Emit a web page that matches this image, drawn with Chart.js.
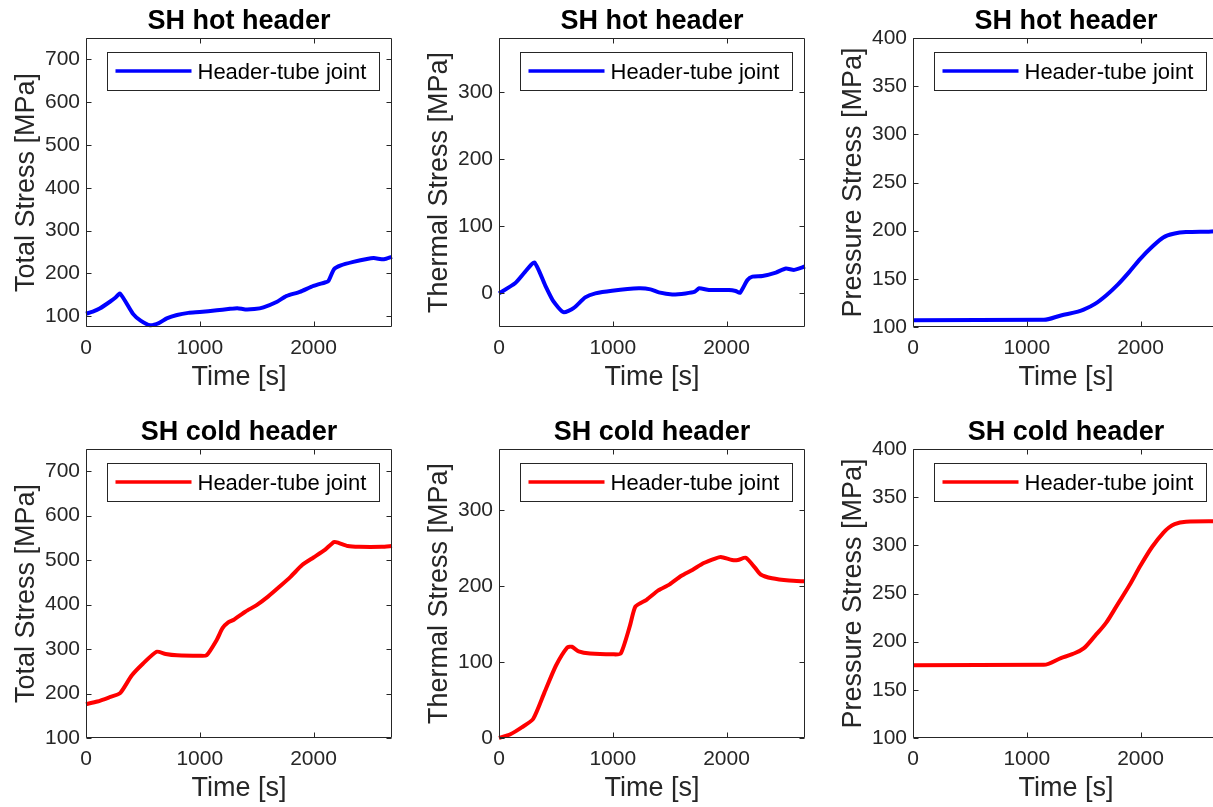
<!DOCTYPE html>
<html>
<head>
<meta charset="utf-8">
<title>SH header stresses</title>
<script src="https://cdn.jsdelivr.net/npm/chart.js@4.4.0/dist/chart.umd.min.js"></script>
<style>
  html, body { margin: 0; padding: 0; background: #fff; overflow: hidden; width: 1213px; height: 807px; }
  canvas { position: absolute; }
</style>
</head>
<body>
<canvas id="hotTotal" width="396" height="404" style="left:0px;top:0px"></canvas>
<canvas id="hotThermal" width="396" height="404" style="left:413px;top:0px"></canvas>
<canvas id="hotPressure" width="396" height="404" style="left:827px;top:0px"></canvas>
<canvas id="coldTotal" width="396" height="404" style="left:0px;top:411px"></canvas>
<canvas id="coldThermal" width="396" height="404" style="left:413px;top:411px"></canvas>
<canvas id="coldPressure" width="396" height="404" style="left:827px;top:411px"></canvas>
<script>
// header-tube joint stresses, time in s, stress in MPa
var hotTotalTime = [0, 60, 120, 210, 260, 300, 415, 480, 563, 640, 710, 800, 900, 1000, 1150, 1250, 1330, 1400, 1480, 1560, 1680, 1760, 1880, 2000, 2100, 2130, 2180, 2240, 2350, 2470, 2530, 2620, 2690];
var hotTotalStress = [106, 111, 118, 134, 144, 153, 105, 90, 79, 84, 95, 103, 108, 110, 114, 117, 119, 116, 117, 121, 134, 147, 157, 171, 179, 182, 210, 219, 227, 234, 236, 233, 239];

var hotThermalTime = [0, 141, 229, 311, 406, 479, 567, 655, 758, 847, 994, 1229, 1332, 1405, 1523, 1640, 1722, 1758, 1846, 2022, 2081, 2119, 2184, 2228, 2316, 2434, 2522, 2595, 2690];
var hotThermalStress = [0, 15, 32, 46, 12, -12, -28, -22, -6, 0, 4, 7.5, 6, 1.5, -1.5, 0, 2.5, 7.5, 5, 5, 3.5, 1, 20, 25, 26, 31, 37, 35, 40];

var hotPressureTime = [0, 1150, 1300, 1450, 1500, 1600, 1700, 1800, 1900, 2000, 2100, 2200, 2300, 2400, 2600, 2690];
var hotPressureStress = [107, 107.5, 112, 116, 118, 124, 133, 144, 157, 171, 183, 193, 197, 198.5, 199, 199.5];

var coldTotalTime = [0, 100, 200, 300, 400, 500, 620, 700, 800, 1000, 1060, 1150, 1200, 1250, 1300, 1400, 1500, 1600, 1700, 1800, 1900, 2000, 2100, 2180, 2220, 2300, 2400, 2600, 2690];
var coldTotalStress = [176, 182, 191, 201, 240, 267, 294, 289, 286, 285, 286, 321, 347, 360, 366, 384, 399, 418, 440, 463, 489, 506, 523, 541, 539, 532, 530, 530, 532];

var coldThermalTime = [0, 100, 200, 300, 400, 500, 600, 640, 700, 800, 1000, 1070, 1150, 1200, 1300, 1400, 1500, 1600, 1700, 1800, 1900, 1950, 2050, 2100, 2170, 2250, 2300, 2400, 2550, 2690];
var coldThermalStress = [0, 5, 14, 25, 60, 95, 119, 120, 114, 111, 110, 111, 147, 173, 182, 194, 202, 213, 221, 230, 236, 238, 234, 234, 237, 224, 215, 210, 207, 206];

var coldPressureTime = [0, 1150, 1300, 1400, 1500, 1600, 1700, 1800, 1900, 2000, 2100, 2200, 2250, 2300, 2400, 2600, 2690];
var coldPressureStress = [175.5, 176, 183, 187, 193, 206, 220, 239, 258, 279, 298, 313, 318.5, 322, 324.5, 325, 325];

// tick labels
var timeTicks = [0, 1000, 2000];
var totalTicks = [100, 200, 300, 400, 500, 600, 700];
var thermalTicks = [0, 100, 200, 300];
var pressureTicks = [100, 150, 200, 250, 300, 350, 400];

var seriesName = 'Header-tube joint';

var panels = [
	{id: 'hotTotal', title: 'SH hot header', yTitle: 'Total Stress [MPa]', t: hotTotalTime, s: hotTotalStress, color: '#0000ff', min: 75, max: 750, ticks: totalTicks, smooth: false},
	{id: 'hotThermal', title: 'SH hot header', yTitle: 'Thermal Stress [MPa]', t: hotThermalTime, s: hotThermalStress, color: '#0000ff', min: -50, max: 380, ticks: thermalTicks, smooth: false},
	{id: 'hotPressure', title: 'SH hot header', yTitle: 'Pressure Stress [MPa]', t: hotPressureTime, s: hotPressureStress, color: '#0000ff', min: 100, max: 400, ticks: pressureTicks, smooth: true},
	{id: 'coldTotal', title: 'SH cold header', yTitle: 'Total Stress [MPa]', t: coldTotalTime, s: coldTotalStress, color: '#ff0000', min: 100, max: 750, ticks: totalTicks, smooth: false},
	{id: 'coldThermal', title: 'SH cold header', yTitle: 'Thermal Stress [MPa]', t: coldThermalTime, s: coldThermalStress, color: '#ff0000', min: 0, max: 380, ticks: thermalTicks, smooth: false},
	{id: 'coldPressure', title: 'SH cold header', yTitle: 'Pressure Stress [MPa]', t: coldPressureTime, s: coldPressureStress, color: '#ff0000', min: 100, max: 400, ticks: pressureTicks, smooth: true}
];

var axisColor = '#262626';
var fontFamily = '"Liberation Sans", Arial, sans-serif';

// box round the axes with inward ticks on all four sides
var framePlugin = {
	id: 'frame',
	afterDatasetsDraw: function(chart) {
		var ctx = chart.ctx;
		var a = chart.chartArea;
		var xs = chart.scales.x, ys = chart.scales.y;
		var l = Math.round(a.left) + 0.5, r = Math.round(a.right) - 0.5;
		var t = Math.round(a.top) + 0.5, b = Math.round(a.bottom) - 0.5;
		ctx.save();
		ctx.strokeStyle = axisColor;
		ctx.lineWidth = 1;
		ctx.beginPath();
		ctx.rect(l, t, r - l, b - t);
		for (var i in xs.ticks) {
			var px = Math.round(xs.getPixelForValue(xs.ticks[i].value)) + 0.5;
			ctx.moveTo(px, b); ctx.lineTo(px, b - 5);
			ctx.moveTo(px, t); ctx.lineTo(px, t + 5);
		}
		for (var j in ys.ticks) {
			var py = Math.round(ys.getPixelForValue(ys.ticks[j].value)) + 0.5;
			ctx.moveTo(l, py); ctx.lineTo(l + 5, py);
			ctx.moveTo(r, py); ctx.lineTo(r - 5, py);
		}
		ctx.stroke();
		ctx.restore();
	}
};

// bold heading over the axes and the boxed legend in the top left corner
var labelPlugin = {
	id: 'panelLabels',
	afterDraw: function(chart) {
		var ctx = chart.ctx;
		var a = chart.chartArea;
		var ds = chart.data.datasets[0];
		ctx.save();
		ctx.fillStyle = '#000';
		ctx.font = 'bold 27px ' + fontFamily;
		ctx.textAlign = 'center';
		ctx.textBaseline = 'middle';
		ctx.fillText(chart.options.panelTitle, (a.left + a.right) / 2, a.top - 16);

		var bx = Math.round(a.left) + 21.5, by = Math.round(a.top) + 14.5;
		ctx.fillStyle = '#fff';
		ctx.fillRect(bx, by, 272, 38);
		ctx.strokeStyle = axisColor;
		ctx.lineWidth = 1;
		ctx.strokeRect(bx, by, 272, 38);
		ctx.strokeStyle = ds.borderColor;
		ctx.lineWidth = 3.5;
		ctx.beginPath();
		ctx.moveTo(bx + 8, by + 18.5);
		ctx.lineTo(bx + 84, by + 18.5);
		ctx.stroke();
		ctx.fillStyle = '#000';
		ctx.font = '22px ' + fontFamily;
		ctx.textAlign = 'left';
		ctx.fillText(ds.label, bx + 90, by + 20);
		ctx.restore();
	}
};

function fixedTicks(list) {
	return function(scale) {
		scale.ticks = list.map(function(v) { return {value: v}; });
	};
}

function plainNumber(value) {
	return String(value);
}

for (var k in panels) {
	var p = panels[k];
	var points = [];
	for (var i in p.t) {
		points.push({x: p.t[i], y: p.s[i]});
	}

	new Chart(document.getElementById(p.id), {
		type: 'line',
		data: {
			datasets: [{
				label: seriesName,
				data: points,
				borderColor: p.color,
				backgroundColor: p.color,
				borderWidth: 4,
				pointRadius: 0,
				tension: p.smooth ? 0 : 0.2,
				cubicInterpolationMode: p.smooth ? 'monotone' : 'default',
				borderJoinStyle: 'round',
				clip: 2
			}]
		},
		plugins: [framePlugin, labelPlugin],
		options: {
			panelTitle: p.title,
			responsive: false,
			devicePixelRatio: 1,
			animation: false,
			events: [],
			layout: { padding: { top: 38, right: 4, bottom: 0, left: 0 } },
			plugins: { legend: { display: false }, tooltip: { enabled: false } },
			scales: {
				x: {
					type: 'linear',
					min: 0,
					max: 2690,
					afterBuildTicks: fixedTicks(timeTicks),
					afterFit: function(scale) { scale.height = 77; },
					grid: { display: false, drawTicks: false },
					border: { display: false },
					ticks: {
						color: axisColor,
						padding: 9,
						maxRotation: 0,
						autoSkip: false,
						callback: plainNumber,
						font: { family: fontFamily, size: 21 }
					},
					title: {
						display: true,
						text: 'Time [s]',
						color: axisColor,
						padding: { top: 0, bottom: 10 },
						font: { family: fontFamily, size: 27 }
					}
				},
				y: {
					type: 'linear',
					min: p.min,
					max: p.max,
					afterBuildTicks: fixedTicks(p.ticks),
					afterFit: function(scale) { scale.width = 86; },
					grid: { display: false, drawTicks: false },
					border: { display: false },
					ticks: {
						color: axisColor,
						padding: 6,
						autoSkip: false,
						callback: plainNumber,
						font: { family: fontFamily, size: 21 }
					},
					title: {
						display: true,
						text: p.yTitle,
						color: axisColor,
						padding: { top: 10, bottom: 0 },
						font: { family: fontFamily, size: 27 }
					}
				}
			}
		}
	});
}
</script>
</body>
</html>
